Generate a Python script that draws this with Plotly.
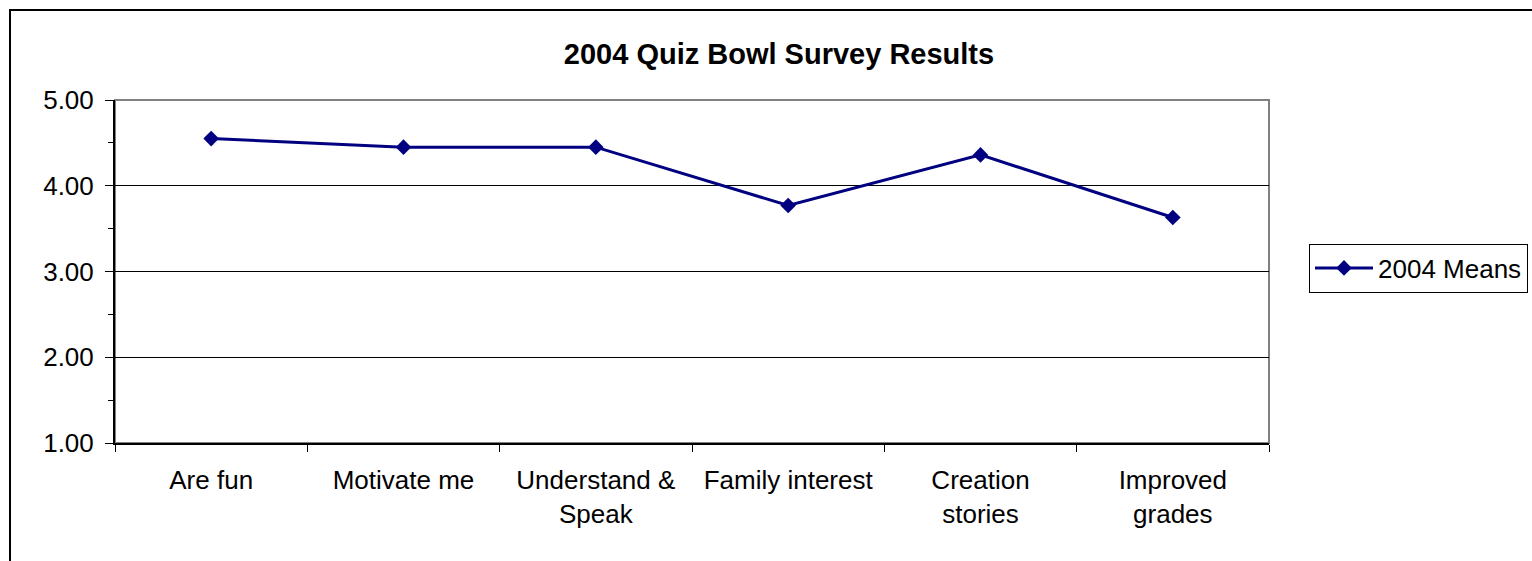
import plotly.graph_objects as go

categories = ["Are fun", "Motivate me", "Understand &<br>Speak", "Family interest",
              "Creation<br>stories", "Improved<br>grades"]
means_2004 = [4.55, 4.45, 4.45, 3.77, 4.36, 3.63]
series_name = "2004 Means"
title_text = "2004 Quiz Bowl Survey Results"
y_ticks = [1, 2, 3, 4, 5]

W, H = 1532, 561
L, R, T, B = 115, 1269, 100, 443
FONT = "Arial, Liberation Sans, sans-serif"

xpos = list(range(len(categories)))

fig = go.Figure()
fig.add_trace(go.Scatter(
    x=xpos, y=means_2004, name=series_name, mode="lines+markers",
    line=dict(color="#000080", width=3),
    marker=dict(symbol="diamond", size=12, color="#000080"),
    showlegend=True,
))

pw = R - L
ph = B - T

def px_x(v):
    return (v - L) / pw

def px_y(v):
    return (B - v) / ph

fig.update_layout(
    width=W, height=H,
    margin=dict(l=L, r=W - R, t=T, b=H - B, autoexpand=False),
    paper_bgcolor="white", plot_bgcolor="white",
    font=dict(family=FONT, size=26, color="black"),
    title=dict(text="<b>" + title_text + "</b>", x=779 / W, xanchor="center",
               y=1 - 54 / H, yanchor="middle", yref="container",
               font=dict(family=FONT, size=29, color="black")),
    showlegend=True,
    legend=dict(x=px_x(1309), xanchor="left", y=px_y(268), yanchor="middle",
                bordercolor="black", borderwidth=1, bgcolor="white",
                itemwidth=58, tracegroupgap=0,
                font=dict(family=FONT, size=26, color="black")),
    xaxis=dict(
        range=[-0.5, len(categories) - 0.5],
        tickmode="array", tickvals=xpos, ticktext=categories,
        ticks="", showgrid=False, zeroline=False,
        showline=True, linecolor="black", linewidth=2,
        ticklabelstandoff=13,
        minor=dict(tickmode="linear", tick0=-0.5, dtick=1, ticks="outside",
                   ticklen=7, tickwidth=1, tickcolor="black", showgrid=False),
        fixedrange=True,
    ),
    yaxis=dict(
        range=[1, 5], tickmode="array", tickvals=y_ticks, tickformat=".2f",
        ticks="outside", ticklen=8, tickwidth=1, tickcolor="black",
        showgrid=True, gridcolor="black", gridwidth=1, zeroline=False,
        showline=True, linecolor="black", linewidth=2,
        ticklabelstandoff=6,
        minor=dict(tickmode="linear", tick0=1.5, dtick=1, ticks="outside",
                   ticklen=5, tickwidth=1, tickcolor="black", showgrid=False),
        fixedrange=True,
    ),
    shapes=[
        # plot area border (gray)
        dict(type="rect", xref="paper", yref="paper", x0=0, x1=1, y0=0, y1=1,
             line=dict(color="#808080", width=2), layer="below"),
        # outer chart border
        dict(type="rect", xref="paper", yref="paper",
             x0=px_x(10), x1=px_x(W + 20), y0=px_y(H + 20), y1=px_y(10),
             line=dict(color="black", width=2)),
    ],
)

fig.write_html("out.html", config={"displayModeBar": False},
               post_script="document.body.style.margin='0px';")
